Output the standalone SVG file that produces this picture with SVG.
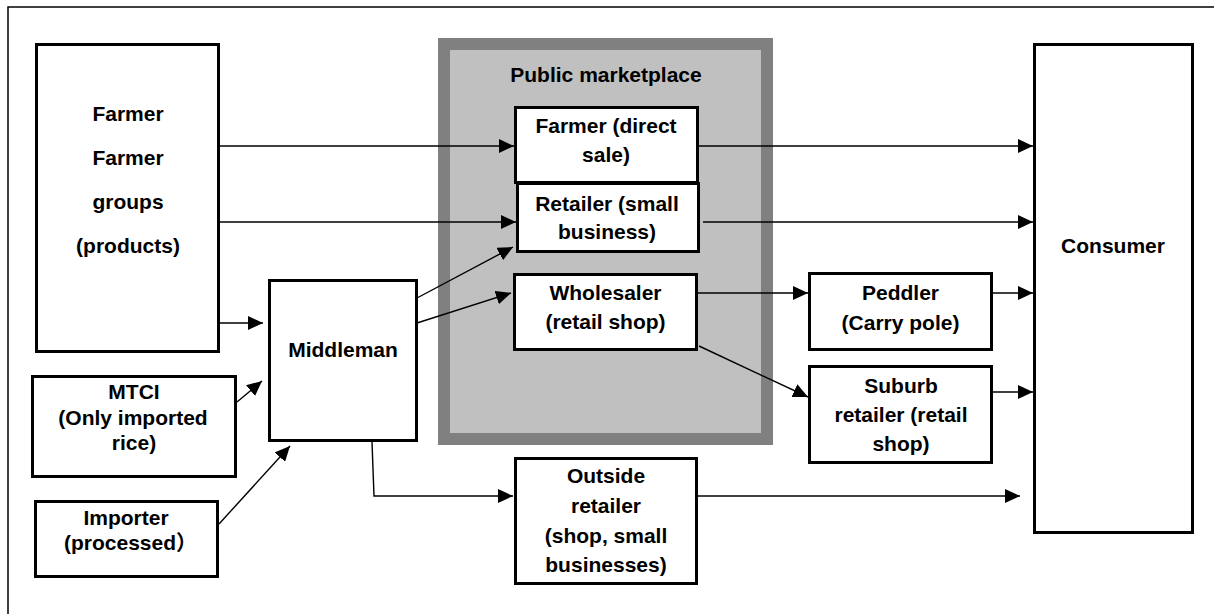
<svg xmlns="http://www.w3.org/2000/svg" width="1214" height="614" viewBox="0 0 1214 614">
  <style>
    .box { fill: #ffffff; stroke: #000000; stroke-width: 3; }
    .frame { fill: none; stroke: #000000; stroke-width: 1.5; }
    .market { fill: #c0c0c0; stroke: #808080; stroke-width: 12; }
    .lbl { font-family: "Liberation Sans", Arial, "Noto Sans CJK SC", sans-serif; font-size: 21px; font-weight: bold; fill: #000000; text-anchor: middle; }
    .edge { fill: none; stroke: #000000; stroke-width: 1.4; marker-end: url(#arrow); }
  </style>
  <defs>
    <marker id="arrow" markerUnits="userSpaceOnUse" markerWidth="15" markerHeight="14" refX="15" refY="7" orient="auto">
      <path d="M0,0 L15,7 L0,14 Z" fill="#000000"/>
    </marker>
  </defs>

  <rect width="1214" height="614" fill="#ffffff"/>
  <!-- page frame -->
  <rect class="frame" x="8" y="7" width="1220" height="620"/>

  <!-- market area -->
  <g id="public-marketplace">
    <rect class="market" x="444" y="44" width="323" height="395"/>
    <text class="lbl" x="606" y="82">Public marketplace</text>
  </g>

  <g id="farmer-groups">
    <rect class="box" x="36.5" y="44.5" width="182" height="307"/>
    <text class="lbl" x="128" y="121">Farmer</text>
    <text class="lbl" x="128" y="165">Farmer</text>
    <text class="lbl" x="128" y="209">groups</text>
    <text class="lbl" x="128" y="253">(products)</text>
  </g>

  <g id="farmer-direct">
    <rect class="box" x="515.5" y="107.5" width="182" height="75"/>
    <text class="lbl" x="606" y="133">Farmer (direct</text>
    <text class="lbl" x="606" y="162">sale)</text>
  </g>

  <g id="retailer-small">
    <rect class="box" x="517.5" y="183.5" width="181" height="68"/>
    <text class="lbl" x="607" y="211">Retailer (small</text>
    <text class="lbl" x="607" y="239">business)</text>
  </g>

  <g id="wholesaler">
    <rect class="box" x="514.5" y="274.5" width="182" height="75"/>
    <text class="lbl" x="605.5" y="300">Wholesaler</text>
    <text class="lbl" x="605.5" y="329">(retail shop)</text>
  </g>

  <g id="middleman">
    <rect class="box" x="269.5" y="280.5" width="147" height="160"/>
    <text class="lbl" x="343" y="357">Middleman</text>
  </g>

  <g id="mtci">
    <rect class="box" x="32.5" y="376.5" width="203" height="100"/>
    <text class="lbl" x="134" y="399">MTCI</text>
    <text class="lbl" x="133" y="424.5">(Only imported</text>
    <text class="lbl" x="134" y="450">rice)</text>
  </g>

  <g id="importer">
    <rect class="box" x="35.5" y="501.5" width="182" height="75"/>
    <text class="lbl" x="126" y="525">Importer</text>
    <text class="lbl" x="64" y="550" style="text-anchor:start">(processed）</text>
  </g>

  <g id="outside-retailer">
    <rect class="box" x="515.5" y="458.5" width="181" height="125"/>
    <text class="lbl" x="606" y="483">Outside</text>
    <text class="lbl" x="606" y="513">retailer</text>
    <text class="lbl" x="606" y="543">(shop, small</text>
    <text class="lbl" x="606" y="572">businesses)</text>
  </g>

  <g id="peddler">
    <rect class="box" x="809.5" y="273.5" width="182" height="76"/>
    <text class="lbl" x="900.5" y="300">Peddler</text>
    <text class="lbl" x="900.5" y="330">(Carry pole)</text>
  </g>

  <g id="suburb-retailer">
    <rect class="box" x="809.5" y="366.5" width="182" height="96"/>
    <text class="lbl" x="901" y="393">Suburb</text>
    <text class="lbl" x="901" y="422">retailer (retail</text>
    <text class="lbl" x="901" y="451">shop)</text>
  </g>

  <g id="consumer">
    <rect class="box" x="1034.5" y="44.5" width="158" height="488"/>
    <text class="lbl" x="1113" y="253">Consumer</text>
  </g>

  <!-- flows -->
  <g id="connectors">
    <path class="edge" d="M220,146 L514,146"/>
    <path class="edge" d="M220,222 L516,222"/>
    <path class="edge" d="M220,323 L263,323"/>
    <path class="edge" d="M237,402 L262,381"/>
    <path class="edge" d="M219,524 L290,446"/>
    <path class="edge" d="M417,298 L513,247"/>
    <path class="edge" d="M417,323 L511,293"/>
    <path class="edge" d="M699,146 L1033,146"/>
    <path class="edge" d="M703,222 L1033,222"/>
    <path class="edge" d="M698,293 L808,293"/>
    <path class="edge" d="M993,293 L1033,293"/>
    <path class="edge" d="M699,346 L808,397"/>
    <path class="edge" d="M993,392 L1033,392"/>
    <path class="edge" d="M372,442 L374,496 L513,496"/>
    <path class="edge" d="M698,496 L1020,496"/>
  </g>
</svg>
